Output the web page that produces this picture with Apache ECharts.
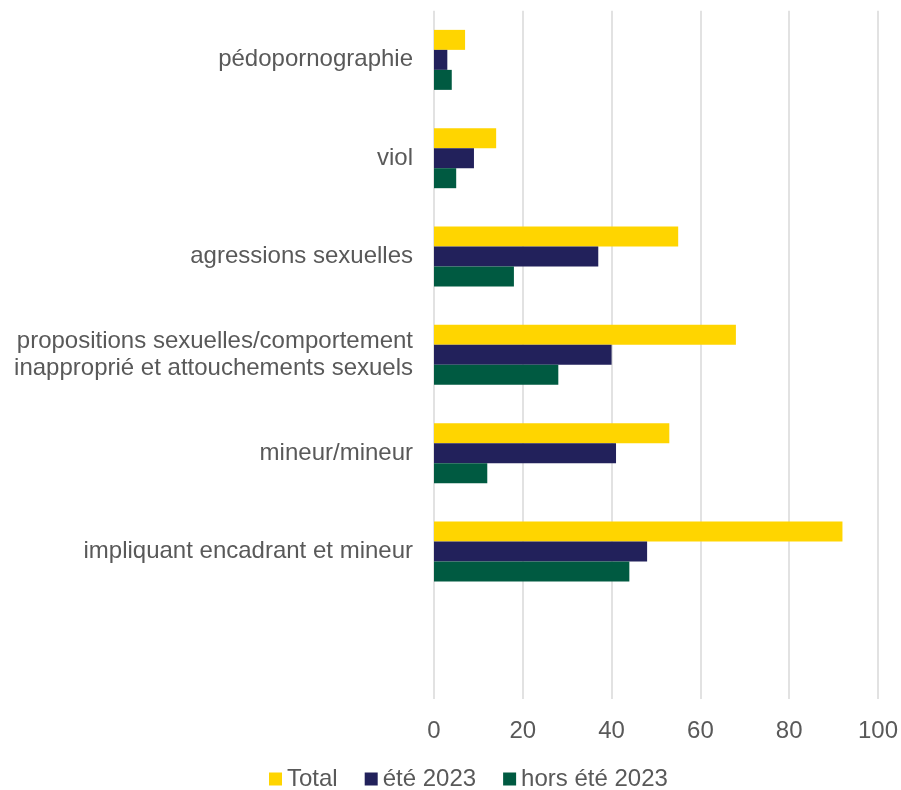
<!DOCTYPE html>
<html><head><meta charset="utf-8">
<script src="https://cdn.jsdelivr.net/npm/echarts@6/dist/echarts.min.js"></script>
<style>html,body{margin:0;padding:0;background:#fff}#c{width:901px;height:790px}</style>
</head><body><div id="c"></div>
<script>
var categories = ["pédopornographie", "viol", "agressions sexuelles", "propositions sexuelles/comportement\ninapproprié et attouchements sexuels", "mineur/mineur", "impliquant encadrant et mineur", ""];
var seriesNames = ["Total", "été 2023", "hors été 2023"];
var totalValues = [7, 14, 55, 68, 53, 92, null];
var ete2023Values = [3, 9, 37, 40, 41, 48, null];
var horsEte2023Values = [4, 5, 18, 28, 12, 44, null];
var xTicks = {min: 0, max: 100, interval: 20};
var colors = ["#FFD500", "#22215B", "#005A41"];

var chart = echarts.init(document.getElementById('c'), null, {renderer: 'canvas'});
var font = "'Liberation Sans', Arial, sans-serif";
var vals = [totalValues, ete2023Values, horsEte2023Values];
chart.setOption({
  animation: false,
  color: colors,
  grid: {left: 434, right: 23, top: 10.7, bottom: 91, containLabel: false},
  legend: {
    top: 762, left: 264,
    icon: 'rect', itemWidth: 13, itemHeight: 13, itemGap: 27,
    textStyle: {fontFamily: font, fontSize: 24, color: '#595959'},
    data: seriesNames
  },
  xAxis: {
    type: 'value', min: xTicks.min, max: xTicks.max, interval: xTicks.interval,
    axisLine: {show: false}, axisTick: {show: false},
    axisLabel: {fontFamily: font, fontSize: 24, color: '#595959', margin: 20},
    splitLine: {show: true, lineStyle: {color: '#D9D9D9', width: 1.5}}
  },
  yAxis: {
    type: 'category', inverse: true, data: categories,
    axisLine: {show: false}, axisTick: {show: false},
    axisLabel: {fontFamily: font, fontSize: 24, color: '#595959', margin: 21, lineHeight: 27, align: 'right', padding: [6, 0, 0, 0]}
  },
  series: seriesNames.map(function (n, i) {
    return {name: n, type: 'bar', data: vals[i], barWidth: 20, barGap: '0%'};
  })
});
</script></body></html>
